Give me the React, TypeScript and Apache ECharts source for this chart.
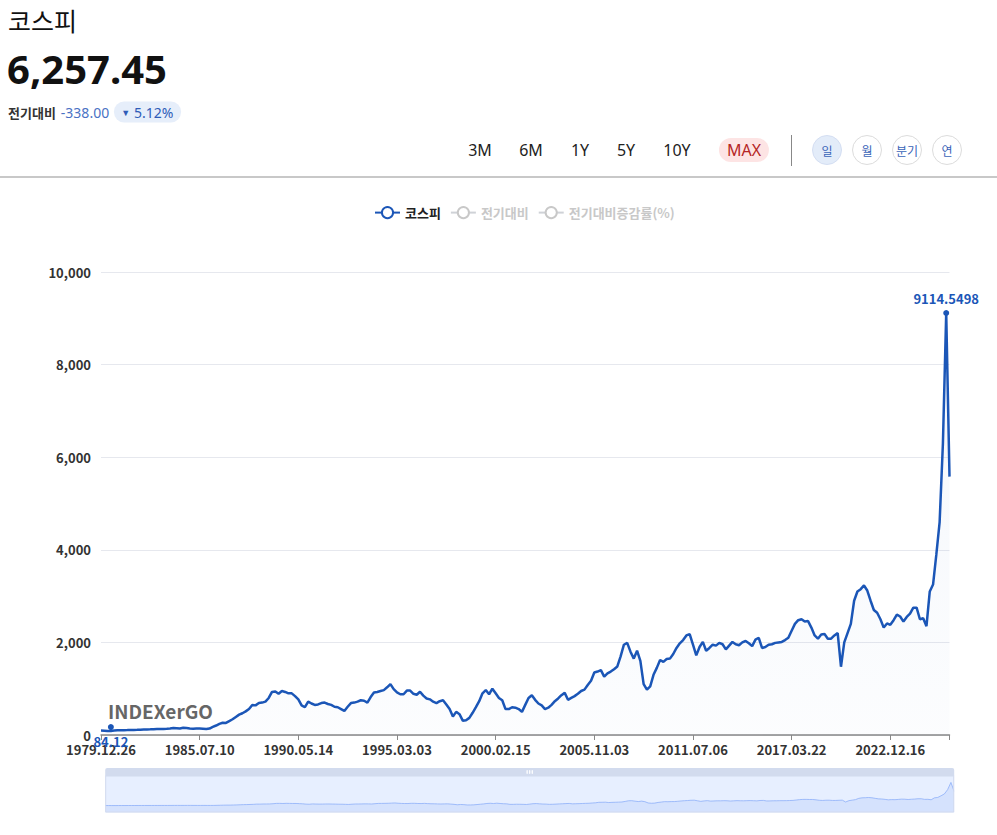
import React, { useEffect, useRef } from "react";
import * as echarts from "echarts";

// ---- data ----
const K = 30; // category points per labelled tick
const tickLabels = [
  "1979.12.26", "1985.07.10", "1990.05.14", "1995.03.03", "2000.02.15",
  "2005.11.03", "2011.07.06", "2017.03.22", "2022.12.16",
];
const kospi = [
  95, 92, 88, 84.12, 95, 100, 102, 105, 106, 108,
  110, 112, 115, 118, 120, 122, 125, 128, 130, 132,
  135, 140, 150, 145, 140, 155, 150, 140, 135, 138,
  140, 135, 130, 140, 175, 205, 240, 265, 260, 300,
  340, 390, 440, 470, 510, 560, 650, 640, 690, 700,
  720, 800, 930, 940, 890, 950, 930, 900, 900, 840,
  770, 640, 600, 720, 680, 650, 660, 690, 700, 670,
  650, 610, 600, 560, 520, 610, 690, 700, 720, 750,
  740, 700, 820, 920, 930, 950, 970, 1030, 1100, 990,
  920, 880, 880, 960, 960, 890, 870, 935, 850, 790,
  770, 720, 690, 730, 750, 660, 560, 400, 500, 450,
  310, 320, 370, 480, 600, 730, 900, 970, 880, 1000,
  900, 800, 750, 560, 560, 600, 590, 560, 500, 650,
  800, 860, 760, 680, 640, 560, 590, 650, 730, 790,
  860, 910, 760, 800, 840, 890, 950, 980, 1080, 1170,
  1350, 1370, 1400, 1260, 1330, 1370, 1420, 1480, 1700, 1950,
  1990, 1800, 1650, 1820, 1600, 1100, 980, 1050, 1300, 1450,
  1620, 1580, 1640, 1650, 1750, 1880, 1980, 2050, 2150, 2180,
  1950, 1720, 1900, 2010, 1820, 1880, 1950, 1930, 1990, 1960,
  1850, 1930, 2010, 1960, 1940, 2000, 2030, 1980, 1920, 2060,
  2100, 1880, 1900, 1950, 1960, 1990, 2000, 2010, 2050, 2100,
  2250, 2400, 2480, 2500, 2450, 2460, 2320, 2150, 2080, 2170,
  2180, 2080, 2080, 2150, 2200, 1475, 2000, 2200, 2400, 2900,
  3100, 3150, 3230, 3120, 2900, 2700, 2640, 2500, 2320, 2410,
  2380, 2480, 2600, 2560, 2450, 2550, 2620, 2750, 2750, 2500,
  2520, 2350, 3100, 3250, 3900, 4600, 6300, 9114.5498, 5580,
];
const legendNames = ["코스피", "전기대비", "전기대비증감률(%)"];
const yTicks = { min: 0, max: 10000, interval: 2000 };
const rangeButtons = ["3M", "6M", "1Y", "5Y", "10Y", "MAX"];
const rangeCenters = [480, 531, 580, 626, 677, 744];
const periodButtons = ["일", "월", "분기", "연"];

const categories = kospi.map((_, i) => (i % K === 0 ? tickLabels[i / K] : String(i)));

const FONT = '"Noto Sans CJK KR", "Noto Sans", sans-serif';
const BLUE = "#1b56b7";

function Chart() {
  const ref = useRef<HTMLDivElement>(null);
  useEffect(() => {
    if (!ref.current) return;
    const chart = echarts.init(ref.current, undefined, { renderer: "svg" });
    chart.setOption({
      animation: false,
      textStyle: { fontFamily: FONT },
      legend: {
        data: legendNames,
        left: 369,
        top: 21,
        itemWidth: 25,
        itemHeight: 14,
        itemGap: 9,
        inactiveColor: "#c8c8c8",
        textStyle: { fontWeight: "bold", fontSize: 13, color: "#222", fontFamily: FONT },
        selected: { [legendNames[1]]: false, [legendNames[2]]: false },
      },
      grid: { left: 101, right: 47.5, top: 92, bottom: 100 },
      xAxis: {
        type: "category",
        data: categories,
        boundaryGap: false,
        axisLine: { lineStyle: { color: "#888", width: 1.5 } },
        axisTick: { show: true, length: 5, lineStyle: { color: "#888" } },
        axisLabel: {
          interval: K - 1,
          showMaxLabel: true,
          showMinLabel: true,
          color: "#333",
          fontWeight: "bold",
          fontSize: 13,
          margin: 8,
          formatter: (_v: string, idx: number) =>
            idx % K === 0 && tickLabels[idx / K] ? tickLabels[idx / K] : "",
        },
        splitLine: { show: false },
      },
      yAxis: {
        type: "value",
        min: yTicks.min,
        max: yTicks.max,
        interval: yTicks.interval,
        axisLine: { show: false },
        axisTick: { show: false },
        axisLabel: {
          color: "#333",
          fontWeight: "bold",
          fontSize: 13,
          margin: 10,
          formatter: (v: number) => v.toLocaleString("en-US"),
        },
        splitLine: { lineStyle: { color: "#e6e8ee" } },
      },
      dataZoom: [
        {
          type: "slider",
          xAxisIndex: 0,
          start: 0,
          end: 100,
          left: 102,
          right: 46,
          top: 588,
          height: 37,
          showDetail: false,
          borderColor: "#d2dbee",
          backgroundColor: "rgba(47,69,84,0)",
          fillerColor: "rgba(135,175,274,0.2)",
          handleStyle: { opacity: 0 },
          handleSize: "100%",
          moveHandleSize: 8,
          moveHandleStyle: { color: "#d2dbee", opacity: 1 },
          dataBackground: {
            lineStyle: { color: "#d2dbee", width: 0.5 },
            areaStyle: { color: "#d2dbee", opacity: 0.2 },
          },
          selectedDataBackground: {
            lineStyle: { color: "#8fb0f7", width: 0.8 },
            areaStyle: { color: "#8fb0f7", opacity: 0.2 },
          },
        },
      ],
      graphic: [
        {
          type: "text",
          left: 108,
          top: 521,
          silent: true,
          style: {
            text: "INDEXerGO",
            fill: "#666",
            font: `bold 19px ${FONT}`,
          },
        },
      ],
      series: [
        {
          name: legendNames[0],
          type: "line",
          data: kospi,
          symbol: "emptyCircle",
          showSymbol: false,
          lineStyle: { color: BLUE, width: 2.5 },
          itemStyle: { color: BLUE },
          areaStyle: {
            color: new echarts.graphic.LinearGradient(0, 0, 0, 1, [
              { offset: 0, color: "rgba(27,86,183,0.07)" },
              { offset: 1, color: "rgba(27,86,183,0.02)" },
            ]),
          },
          markPoint: {
            symbol: "circle",
            symbolSize: 6,
            itemStyle: { color: BLUE },
            label: { color: BLUE, fontWeight: "bold", fontSize: 13, fontFamily: FONT },
            data: [
              { type: "max", label: { position: "top", formatter: "{c}" } },
              {
                type: "min",
                symbolOffset: [0, -4],
                label: { position: "bottom", formatter: "{c}" },
              },
            ],
          },
        },
        { name: legendNames[1], type: "line", data: [], symbol: "emptyCircle", itemStyle: { color: "#f0a030" } },
        { name: legendNames[2], type: "line", data: [], symbol: "emptyCircle", itemStyle: { color: "#30a060" } },
      ],
    });
    return () => chart.dispose();
  }, []);
  return <div ref={ref} style={{ position: "absolute", left: 0, top: 180, width: 997, height: 655 }} />;
}

const centered = (cx: number, cy: number): React.CSSProperties => ({
  position: "absolute",
  left: cx,
  top: cy,
  transform: "translate(-50%, -50%)",
  whiteSpace: "nowrap",
});

export default function App() {
  return (
    <div
      style={{
        position: "absolute",
        left: 0,
        top: 0,
        width: 997,
        height: 835,
        background: "#fff",
        fontFamily: FONT,
        overflow: "hidden",
      }}
    >
      <div style={{ position: "absolute", left: 8, top: 2, fontSize: 25, color: "#111", lineHeight: "36px" }}>
        코스피
      </div>
      <div
        style={{
          position: "absolute",
          left: 7,
          top: 42,
          fontSize: 40,
          fontWeight: 700,
          color: "#111",
          lineHeight: "54px",
          fontFamily: '"Noto Sans", sans-serif',
        }}
      >
        6,257.45
      </div>
      <div
        style={{
          position: "absolute",
          left: 8,
          top: 112,
          transform: "translate(0, -50%)",
          display: "flex",
          alignItems: "center",
          fontSize: 13,
          whiteSpace: "nowrap",
        }}
      >
        <span style={{ fontWeight: 700, color: "#333" }}>전기대비</span>
        <span style={{ color: "#4a72c4", marginLeft: 5, fontSize: 14, fontFamily: '"Noto Sans", sans-serif' }}>-338.00</span>
        <span
          style={{
            marginLeft: 5,
            background: "#e6eefa",
            borderRadius: 10,
            padding: "1px 7px",
            color: "#2e5cb8",
            fontSize: 14,
            fontFamily: '"Noto Sans", sans-serif',
            display: "flex",
            alignItems: "center",
          }}
        >
          <span style={{ fontSize: 9, marginRight: 4 }}>▼</span>5.12%
        </span>
      </div>

      {rangeButtons.map((b, i) =>
        b === "MAX" ? (
          <div
            key={b}
            style={{
              ...centered(rangeCenters[i], 150),
              background: "#fde4e4",
              color: "#b52626",
              borderRadius: 12,
              padding: "1px 8px",
              fontSize: 16,
              fontFamily: '"Noto Sans", sans-serif',
            }}
          >
            {b}
          </div>
        ) : (
          <div key={b} style={{ ...centered(rangeCenters[i], 150), fontSize: 16, color: "#222", fontFamily: '"Noto Sans", sans-serif' }}>
            {b}
          </div>
        )
      )}
      <div style={{ position: "absolute", left: 791, top: 135, width: 1, height: 31, background: "#888" }} />
      {periodButtons.map((b, i) => (
        <div
          key={b}
          style={{
            ...centered(827 + i * 40, 150),
            width: 28,
            height: 28,
            borderRadius: "50%",
            border: i === 0 ? "1px solid #d4def2" : "1px solid #dcdcdc",
            background: i === 0 ? "#e3ecf9" : "#fff",
            color: "#3a64b8",
            fontSize: 12,
            display: "flex",
            alignItems: "center",
            justifyContent: "center",
          }}
        >
          {b}
        </div>
      ))}
      <div style={{ position: "absolute", left: 0, top: 176, width: 997, height: 2, background: "#c8c8c8" }} />
      <Chart />
    </div>
  );
}
